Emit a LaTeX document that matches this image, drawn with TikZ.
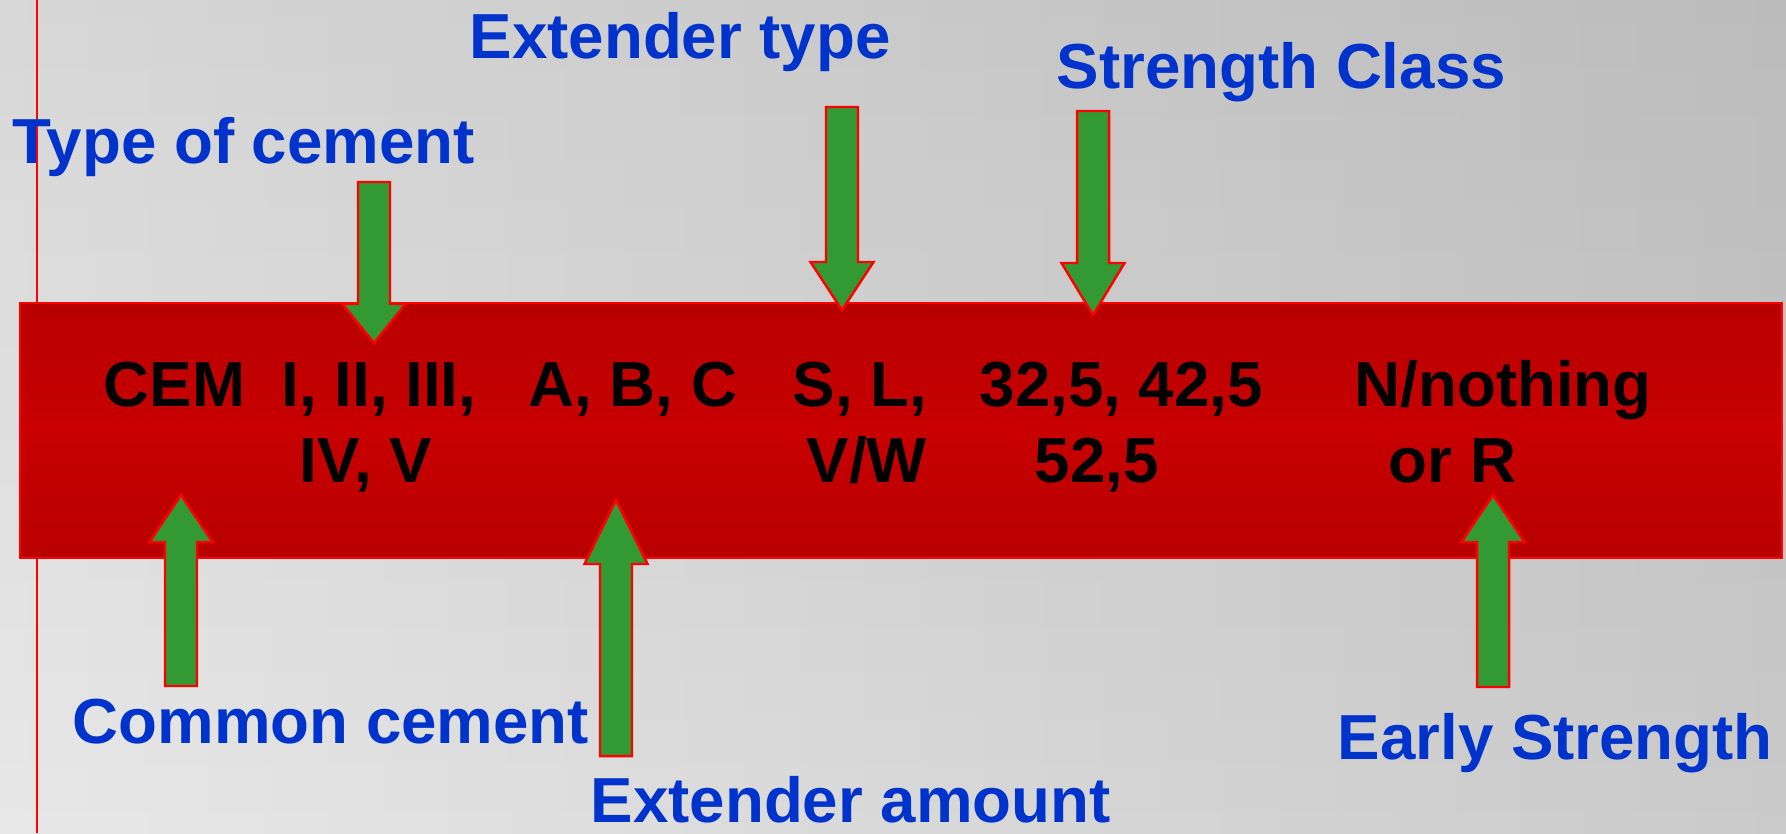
\documentclass[tikz,border=0pt]{standalone}
\usepackage{fontspec}
\setmainfont{Liberation Sans}
\usetikzlibrary{fadings}
\definecolor{bgLight}{HTML}{E8E8E8}
\definecolor{bgDark}{HTML}{CACACA}
\definecolor{bandEdge}{HTML}{B80000}
\definecolor{bandMid}{HTML}{C80000}
\definecolor{arrowGreen}{HTML}{339933}
\definecolor{labelBlue}{HTML}{0033CC}
\tikzset{
  lbl/.style={anchor=base west, inner sep=0pt, text=labelBlue, font=\fontsize{18.1}{22}\selectfont\bfseries},
  codetxt/.style={anchor=base west, inner sep=0pt, text=black, font=\fontsize{18.1}{22}\selectfont\bfseries},
  blockarrow/.style={fill=arrowGreen, draw=red, line width=0.7pt, line join=miter},
}
% #1 x, #2 tip y, #3 head base y, #4 tail y
\newcommand{\greenarrow}[4]{%
  \draw[blockarrow] (#1,#2) -- (#1+31.5,#3) -- (#1+16,#3) -- (#1+16,#4)
    -- (#1-16,#4) -- (#1-16,#3) -- (#1-31.5,#3) -- cycle;}
\begin{document}
\begin{tikzpicture}[x=0.01cm, y=-0.01cm]
\useasboundingbox (0,0) rectangle (1786,833);
% background (unflipped scope so shading directions are the usual ones)
\begin{scope}[yscale=-1]
  \shade[left color=bgLight, right color=bgDark] (0,0) rectangle (1786,-833);
  \fill[black, opacity=0.07, path fading=south] (0,0) rectangle (1786,-833);
\end{scope}
% thin vertical red line
\draw[red, line width=0.45pt] (37,0) -- (37,833);
% band
\shade[top color=bandEdge, bottom color=bandEdge, middle color=bandMid] (20,303) rectangle (1782,558);
\draw[red, line width=0.6pt] (20,303) rectangle (1782,558);
% arrows
\greenarrow{374}{343}{304}{182}
\greenarrow{181}{495}{542}{686}
\greenarrow{616}{500}{564}{756}
\greenarrow{842}{310}{262}{107}
\greenarrow{1093}{315}{263}{111}
\greenarrow{1493}{495}{542}{687}
% blue labels
\node[lbl] (typeofcement) at (12,163) {Type of cement};
\node[lbl] (extendertype) at (469,58) {Extender type};
\node[lbl] (strengthclass) at (1056,88) {Strength Class};
\node[lbl] (commoncement) at (72,743) {Common cement};
\node[lbl] (extenderamount) at (590,822) {Extender amount};
\node[lbl] (earlystrength) at (1337,759) {Early Strength};
% codes in band
\node[codetxt] (cem) at (103,406) {CEM};
\node[codetxt] (romanA) at (281,406) {I, II, III,};
\node[codetxt] (romanB) at (299,482) {IV, V};
\node[codetxt] (abc) at (528,406) {A, B, C};
\node[codetxt] (slA) at (792,406) {S, L,};
\node[codetxt] (slB) at (806,482) {V/W};
\node[codetxt] (classA) at (979,406) {32,5, 42,5};
\node[codetxt] (classB) at (1034,482) {52,5};
\node[codetxt] (earlyA) at (1354,406) {N/nothing};
\node[codetxt] (earlyB) at (1388,482) {or R};
\end{tikzpicture}
\end{document}
